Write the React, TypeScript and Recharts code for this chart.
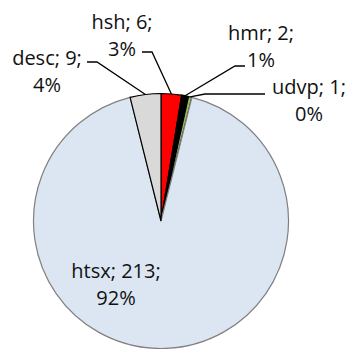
import React from 'react';
import { PieChart, Pie, Cell } from 'recharts';

// Category names, counts and slice fills (clockwise from 12 o'clock)
const categories = ['hsh', 'hmr', 'udvp', 'htsx', 'desc'];
const counts = [6, 2, 1, 213, 9];
const fills = ['#FF0000', '#000000', '#9BBB59', '#DCE6F2', '#D9D9D9'];
const strokes = ['#000000', '#000000', '#000000', '#808080', '#000000'];

const data = categories.map((name, i) => ({ name, value: counts[i] }));

// Label placement: text centre x, first baseline y, optional leader [start x, elbow x, y]
type LabelLayout = { x: number; y: number; lead?: [number, number, number] };
const labelLayout: Record<string, LabelLayout> = {
  hsh: { x: 122, y: 29, lead: [142, 152, 52] },
  hmr: { x: 261, y: 40, lead: [245, 235, 66] },
  udvp: { x: 309, y: 94, lead: [265, 205, 94] },
  htsx: { x: 116, y: 278 },
  desc: { x: 47, y: 65, lead: [87, 97, 62] },
};

const RAD = Math.PI / 180;
const FONT = '"Open Sans", "Noto Sans", sans-serif';
const LINE_GAP = 26.5;

const renderLabel = (props: any) => {
  const { cx, cy, midAngle, outerRadius, name, value, percent } = props;
  const layout = labelLayout[name];
  if (!layout) return null;
  const px = cx + outerRadius * Math.cos(-midAngle * RAD);
  const py = cy + outerRadius * Math.sin(-midAngle * RAD);
  const pct = Math.round(percent * 100);
  return (
    <g>
      {layout.lead && (
        <polyline
          points={`${layout.lead[0]},${layout.lead[2]} ${layout.lead[1]},${layout.lead[2]} ${px},${py}`}
          fill="none"
          stroke="#000"
          strokeWidth={1.3}
        />
      )}
      <text x={layout.x} y={layout.y} textAnchor="middle" fontFamily={FONT} fontSize={20} fill="#111">
        {`${name}; ${value};`}
      </text>
      <text x={layout.x} y={layout.y + LINE_GAP} textAnchor="middle" fontFamily={FONT} fontSize={20} fill="#111">
        {`${pct}%`}
      </text>
    </g>
  );
};

export default function App() {
  return (
    <div style={{ position: 'absolute', left: 0, top: 0, width: 350, height: 349, background: '#fff' }}>
      <PieChart width={350} height={349} margin={{ top: 0, right: 0, bottom: 0, left: 0 }}>
        <Pie
          data={data}
          dataKey="value"
          nameKey="name"
          cx={161}
          cy={221}
          outerRadius={127.5}
          startAngle={90}
          endAngle={-270}
          label={renderLabel}
          labelLine={false}
          isAnimationActive={false}
        >
          {data.map((d, i) => (
            <Cell key={d.name} fill={fills[i]} stroke={strokes[i]} strokeWidth={1.2} />
          ))}
        </Pie>
      </PieChart>
    </div>
  );
}
